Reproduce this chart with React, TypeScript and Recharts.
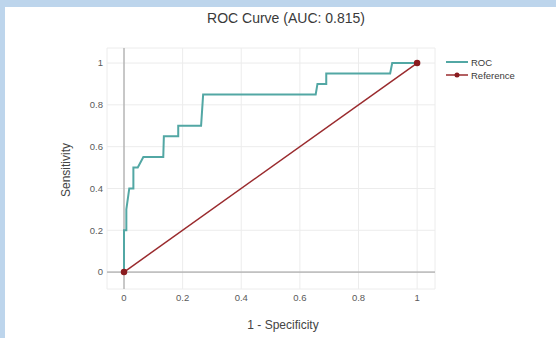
import React from 'react';
import { LineChart, Line, XAxis, YAxis, CartesianGrid, ReferenceLine } from 'recharts';

const rocFpr = [0, 0, 0.008, 0.008, 0.018, 0.032, 0.032, 0.047, 0.066, 0.134, 0.136, 0.185, 0.185, 0.263, 0.27, 0.654, 0.66, 0.69, 0.69, 0.908, 0.915, 1];
const rocTpr = [0, 0.2, 0.2, 0.3, 0.4, 0.4, 0.5, 0.5, 0.55, 0.55, 0.65, 0.65, 0.7, 0.7, 0.85, 0.85, 0.9, 0.9, 0.95, 0.95, 1, 1];
const refFpr = [0, 1];
const refTpr = [0, 1];
const ticks = [0, 0.2, 0.4, 0.6, 0.8, 1];
const tickLabels = ['0', '0.2', '0.4', '0.6', '0.8', '1'];

const rocData = rocFpr.map((x, i) => ({ x, y: rocTpr[i] }));
const refData = refFpr.map((x, i) => ({ x, y: refTpr[i] }));

const ROC_COLOR = '#52a7a4';
const REF_COLOR = '#9a2b2e';
const FONT = '"Liberation Sans", Arial, sans-serif';

const fmt = (v: number) => {
  const i = ticks.indexOf(v);
  return i >= 0 ? tickLabels[i] : String(v);
};

export default function App() {
  return (
    <div style={{ position: 'fixed', left: 0, top: 0, width: 556, height: 338, background: '#bdd5ec', fontFamily: FONT, overflow: 'hidden' }}>
      <div style={{ position: 'absolute', left: 5, top: 7, width: 551, height: 331, background: '#ffffff' }} />
      <div style={{ position: 'absolute', left: 0, top: 0 }}>
        <LineChart width={556} height={338} margin={{ top: 48, right: 121, bottom: 29, left: 57 }}>
          <CartesianGrid stroke="#ececec" />
          <XAxis
            type="number"
            dataKey="x"
            domain={[-0.058, 1.061]}
            allowDataOverflow
            ticks={ticks}
            tickFormatter={fmt}
            axisLine={false}
            tickLine={false}
            tickSize={0}
            tickMargin={5}
            height={20}
            tick={{ fill: '#5a5a5a', fontSize: 9.5 }}
          />
          <YAxis
            type="number"
            dataKey="y"
            domain={[-0.081, 1.072]}
            allowDataOverflow
            ticks={ticks}
            tickFormatter={fmt}
            axisLine={false}
            tickLine={false}
            tickSize={0}
            tickMargin={4}
            width={50}
            tick={{ fill: '#5a5a5a', fontSize: 9.5 }}
          />
          <ReferenceLine x={0} stroke="#9a9a9a" strokeWidth={1} />
          <ReferenceLine y={0} stroke="#9a9a9a" strokeWidth={1} />
          <Line data={rocData} dataKey="y" type="linear" stroke={ROC_COLOR} strokeWidth={2} dot={false} isAnimationActive={false} />
          <Line data={refData} dataKey="y" type="linear" stroke={REF_COLOR} strokeWidth={1.5} dot={{ r: 2.5, fill: '#8a1c1f', stroke: '#8a1c1f' }} isAnimationActive={false} />
        </LineChart>
      </div>
      <div style={{ position: 'absolute', left: 0, width: 572, top: 9, textAlign: 'center', fontSize: 14, color: '#3a3a3a', lineHeight: '18px' }}>
        ROC Curve (AUC: 0.815)
      </div>
      <div style={{ position: 'absolute', left: 0, width: 566, top: 318, textAlign: 'center', fontSize: 12, color: '#444', lineHeight: '14px' }}>
        1 - Specificity
      </div>
      <div style={{ position: 'absolute', left: 66, top: 170, width: 0, height: 0 }}>
        <div style={{ position: 'absolute', left: -40, top: -7, width: 80, textAlign: 'center', fontSize: 12, color: '#444', lineHeight: '14px', transform: 'rotate(-90deg)' }}>
          Sensitivity
        </div>
      </div>
      <svg style={{ position: 'absolute', left: 440, top: 52 }} width={100} height={32}>
        <line x1={6} y1={10} x2={28} y2={10} stroke={ROC_COLOR} strokeWidth={2} />
        <text x={31} y={13.5} fontSize={9.5} fill="#3a3a3a" fontFamily={FONT}>ROC</text>
        <line x1={6} y1={23} x2={28} y2={23} stroke={REF_COLOR} strokeWidth={1.5} />
        <circle cx={17} cy={23} r={2.5} fill="#8a1c1f" />
        <text x={31} y={26.5} fontSize={9.5} fill="#3a3a3a" fontFamily={FONT}>Reference</text>
      </svg>
    </div>
  );
}
